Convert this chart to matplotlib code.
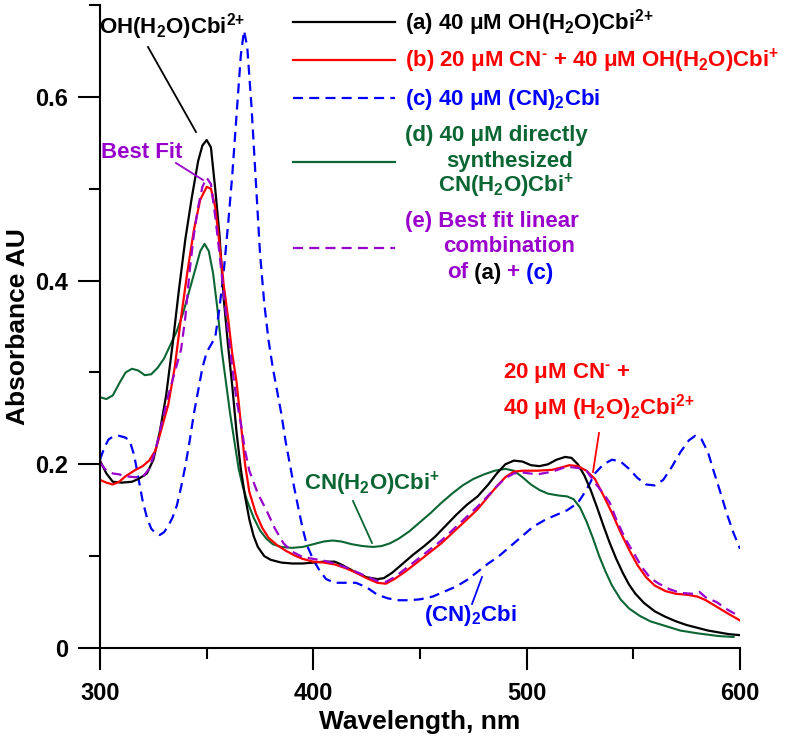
import matplotlib
matplotlib.use('Agg')
import matplotlib.pyplot as plt
from matplotlib.ticker import MultipleLocator, FuncFormatter

plt.rcParams['font.family'] = ['Liberation Sans', 'DejaVu Sans']
plt.rcParams['font.weight'] = 'bold'
plt.rcParams['mathtext.fontset'] = 'custom'
plt.rcParams['mathtext.rm'] = 'Liberation Sans:bold'
plt.rcParams['mathtext.bf'] = 'Liberation Sans:bold'
plt.rcParams['mathtext.it'] = 'Liberation Sans:bold:italic'
plt.rcParams['mathtext.sf'] = 'Liberation Sans:bold'
plt.rcParams['mathtext.default'] = 'rm'

# (a) 40 uM OH(H2O)Cbi2+
wl_a = [300, 303, 306, 310, 315, 318, 322, 325, 328, 331, 334, 337, 340, 343, 346, 348, 350,
        352, 354, 356, 358, 360, 362, 364, 366, 368, 370, 372, 374, 377, 380, 385, 390, 395,
        400, 405, 410, 413, 417, 421, 425, 430, 433, 437, 442, 447, 452, 457, 462, 467, 472,
        477, 482, 486, 490, 494, 498, 502, 506, 510, 514, 518, 521, 524, 527, 530, 533, 536,
        539, 542, 545, 548, 551, 555, 560, 565, 570, 575, 580, 585, 590, 595, 600]
abs_a = [0.204, 0.19, 0.181, 0.180, 0.181, 0.184, 0.19, 0.205, 0.235, 0.275, 0.33, 0.39, 0.445,
         0.49, 0.53, 0.547, 0.553, 0.545, 0.50, 0.45, 0.38, 0.33, 0.285, 0.235, 0.195, 0.165,
         0.14, 0.122, 0.11, 0.10, 0.096, 0.093, 0.092, 0.092, 0.093, 0.094, 0.094, 0.091, 0.086,
         0.081, 0.077, 0.075, 0.076, 0.082, 0.092, 0.102, 0.111, 0.121, 0.133, 0.145, 0.156,
         0.165, 0.178, 0.19, 0.2, 0.204, 0.203, 0.199, 0.198, 0.2, 0.205, 0.208, 0.207, 0.2,
         0.188, 0.172, 0.153, 0.133, 0.114, 0.097, 0.082, 0.069, 0.059, 0.049, 0.04, 0.034,
         0.029, 0.025, 0.022, 0.019, 0.017, 0.015, 0.014]

# (b) 20 uM CN- + 40 uM OH(H2O)Cbi+
wl_b = [300, 303, 306, 309, 312, 316, 320, 323, 326, 329, 332, 335, 338, 341, 344, 347, 350,
        352, 354, 356, 358, 360, 362, 364, 366, 368, 370, 373, 376, 379, 383, 387, 391, 395,
        400, 405, 410, 415, 420, 425, 430, 434, 438, 443, 448, 454, 460, 466, 472, 477, 482,
        486, 490, 494, 498, 505, 512, 517, 520, 524, 528, 532, 536, 540, 544, 548, 552, 556,
        560, 565, 570, 575, 580, 584, 589, 594, 600]
abs_b = [0.183, 0.180, 0.178, 0.181, 0.187, 0.193, 0.198, 0.204, 0.215, 0.24, 0.265, 0.305,
         0.36, 0.41, 0.455, 0.488, 0.502, 0.5, 0.48, 0.44, 0.395, 0.36, 0.32, 0.29, 0.245, 0.2,
         0.17, 0.147, 0.131, 0.12, 0.112, 0.106, 0.101, 0.097, 0.094, 0.093, 0.091, 0.087,
         0.082, 0.076, 0.071, 0.070, 0.075, 0.083, 0.092, 0.103, 0.114, 0.127, 0.14, 0.151,
         0.165, 0.176, 0.186, 0.192, 0.193, 0.193, 0.194, 0.197, 0.199, 0.198, 0.193, 0.184,
         0.166, 0.147, 0.126, 0.107, 0.09, 0.077, 0.068, 0.062, 0.059, 0.058, 0.056, 0.052,
         0.045, 0.038, 0.030]

# (c) 40 uM (CN)2Cbi
wl_c = [300, 302, 304, 306, 309, 312, 314, 316, 318, 320, 322, 324, 326, 328, 330, 332, 334,
        336, 338, 340, 342, 344, 346, 348, 350, 352, 354, 356, 358, 360, 362, 364, 366, 367.5,
        369, 371, 373, 375, 377, 379, 381, 383, 385, 387, 389, 391, 393, 395, 397, 400, 403,
        406, 410, 415, 420, 425, 430, 435, 440, 445, 450, 456, 462, 467, 472, 477, 482, 487,
        492, 497, 503, 509, 514, 519, 524, 528, 532, 536, 540, 544, 548, 552, 556, 560, 564,
        568, 572, 576, 579, 582, 585, 588, 591, 594, 597, 600]
abs_c = [0.205, 0.218, 0.227, 0.230, 0.231, 0.229, 0.225, 0.21, 0.185, 0.16, 0.142, 0.13,
         0.125, 0.123, 0.126, 0.133, 0.142, 0.155, 0.175, 0.198, 0.225, 0.255, 0.28, 0.305,
         0.322, 0.33, 0.338, 0.37, 0.41, 0.46, 0.515, 0.58, 0.645, 0.672, 0.655, 0.59, 0.51,
         0.43, 0.375, 0.335, 0.305, 0.28, 0.255, 0.225, 0.2, 0.175, 0.152, 0.13, 0.112, 0.096,
         0.084, 0.075, 0.071, 0.071, 0.071, 0.066, 0.058, 0.054, 0.052, 0.052, 0.053, 0.056,
         0.062, 0.067, 0.074, 0.083, 0.092, 0.1, 0.11, 0.12, 0.132, 0.14, 0.145, 0.15, 0.158,
         0.172, 0.19, 0.2, 0.205, 0.203, 0.195, 0.185, 0.178, 0.177, 0.183, 0.197, 0.213,
         0.226, 0.231, 0.227, 0.213, 0.19, 0.168, 0.145, 0.125, 0.108]

# (d) 40 uM directly synthesized CN(H2O)Cbi+
wl_d = [300, 303, 306, 309, 312, 315, 318, 321, 324, 327, 330, 333, 336, 339, 342, 345, 347,
        349, 351, 353, 355, 357, 359, 361, 363, 365, 367, 369, 372, 375, 378, 381, 385, 390,
        395, 400, 405, 409, 413, 418, 423, 428, 432, 436, 440, 445, 450, 455, 460, 465, 470,
        475, 480, 485, 490, 494, 498, 502, 506, 510, 515, 519, 522, 525, 528, 531, 534, 537,
        540, 544, 548, 553, 558, 565, 572, 580, 590, 597]
abs_d = [0.273, 0.271, 0.275, 0.288, 0.3, 0.304, 0.302, 0.297, 0.298, 0.305, 0.315, 0.33,
         0.345, 0.365, 0.39, 0.415, 0.432, 0.44, 0.432, 0.408, 0.37, 0.325, 0.29, 0.255, 0.225,
         0.195, 0.175, 0.16, 0.142, 0.128, 0.119, 0.113, 0.11, 0.109, 0.11, 0.113, 0.116,
         0.117, 0.116, 0.113, 0.111, 0.11, 0.111, 0.114, 0.119, 0.127, 0.137, 0.147, 0.158,
         0.168, 0.177, 0.184, 0.189, 0.193, 0.195, 0.193, 0.186, 0.178, 0.172, 0.168, 0.166,
         0.165, 0.162, 0.153, 0.138, 0.12, 0.1, 0.083, 0.068, 0.053, 0.043, 0.035, 0.029,
         0.024, 0.019, 0.016, 0.013, 0.012]

# (e) best fit linear combination of (a) + (c)
wl_e = [300, 303, 306, 309, 312, 316, 320, 323, 326, 329, 332, 335, 338, 340, 342, 344, 346,
        348, 350, 352, 354, 356, 358, 360, 362, 364, 366, 368, 370, 374, 378, 382, 386, 390,
        395, 400, 405, 410, 415, 420, 425, 430, 434, 438, 443, 448, 454, 460, 466, 472, 477,
        482, 486, 490, 494, 498, 505, 512, 517, 520, 524, 528, 532, 536, 539, 542, 546, 550,
        554, 558, 562, 567, 572, 578, 581, 584, 589, 594, 600]
abs_e = [0.202, 0.193, 0.19, 0.189, 0.187, 0.186, 0.186, 0.195, 0.215, 0.245, 0.275, 0.3,
         0.325, 0.36, 0.41, 0.45, 0.48, 0.502, 0.512, 0.505, 0.47, 0.43, 0.385, 0.345, 0.305,
         0.27, 0.245, 0.215, 0.193, 0.168, 0.15, 0.13, 0.114, 0.105, 0.099, 0.097, 0.095,
         0.092, 0.088, 0.083, 0.078, 0.073, 0.072, 0.077, 0.086, 0.095, 0.106, 0.117, 0.13,
         0.143, 0.154, 0.166, 0.176, 0.185, 0.19, 0.191, 0.189, 0.192, 0.196, 0.197, 0.196,
         0.193, 0.18, 0.168, 0.158, 0.14, 0.12, 0.104, 0.088, 0.076, 0.07, 0.064, 0.06, 0.059,
         0.061, 0.055, 0.05, 0.042, 0.034]

BLACK = '#000000'
RED = '#ff0000'
BLUE = '#0000ff'
GREEN = '#0b6633'
PURPLE = '#9900cc'
FS = 16

fig = plt.figure(figsize=(8, 7.41), dpi=100)
ax = fig.add_axes([0.125, 93 / 741, 0.8, 643 / 741])

dash = (0, (4.5, 2.8))
ax.plot(wl_d, abs_d, color=GREEN, lw=1.5)
ax.plot(wl_c, abs_c, color=BLUE, lw=1.6, linestyle=dash)
ax.plot(wl_a, abs_a, color=BLACK, lw=1.6)
ax.plot(wl_b, abs_b, color=RED, lw=1.6)
ax.plot(wl_e, abs_e, color=PURPLE, lw=1.6, linestyle=dash)

ax.set_xlim(300, 600)
ax.set_ylim(0, 0.7)
ax.xaxis.set_major_locator(MultipleLocator(100))
ax.xaxis.set_minor_locator(MultipleLocator(50))
ax.yaxis.set_major_locator(MultipleLocator(0.2))
ax.yaxis.set_minor_locator(MultipleLocator(0.1))
ax.yaxis.set_major_formatter(FuncFormatter(lambda v, p: '0' if abs(v) < 1e-9 else f'{v:.1f}'))
ax.spines['top'].set_visible(False)
ax.spines['right'].set_visible(False)
for s in ('left', 'bottom'):
    ax.spines[s].set_linewidth(1.5)
ax.tick_params(which='major', length=15.8, width=1.5, labelsize=17)
ax.tick_params(which='minor', length=7.9, width=1.5)
ax.tick_params(axis='x', which='major', pad=9)
ax.tick_params(axis='y', which='major', pad=7)
ax.set_xlabel('Wavelength, nm', fontsize=19, fontweight='bold', labelpad=3)
ax.set_ylabel('Absorbance AU', fontsize=19, fontweight='bold', labelpad=4)


def px(x, y):
    # pixel position in the 800x741 picture -> axes fraction
    return ((x - 100) / 640, (648 - y) / 643)


def label(x, y, s, color, ha='left'):
    return ax.text(*px(x, y), s, color=color, fontsize=FS, fontweight='bold',
                   ha=ha, va='center', transform=ax.transAxes)


def leader(x0, y0, x1, y1, color):
    p0, p1 = px(x0, y0), px(x1, y1)
    ax.plot([p0[0], p1[0]], [p0[1], p1[1]], color=color, lw=1.3,
            transform=ax.transAxes, clip_on=False)


SUP2P = r'$^{2\text{+}}$'
SUPP = r'$^{\text{+}}$'
SUPM = r'$^{\text{-}}$'
H2O = r'(H$_2$O)'

# annotations on the curves
label(99, 27, 'OH' + H2O + 'Cbi' + SUP2P, BLACK)
leader(148, 47, 196, 132, BLACK)
label(101, 152, 'Best Fit', PURPLE)
leader(176, 163, 203, 180, PURPLE)
label(304, 484, 'CN' + H2O + 'Cbi' + SUPP, GREEN)
leader(353, 501, 372, 543, GREEN)
label(424, 616, r'(CN)$_2$Cbi', BLUE)
leader(482, 577, 472, 604, BLUE)
label(503, 373, '20 μM CN' + SUPM + ' +', RED)
label(503, 408, r'40 μM (H$_2$O)$_2$Cbi' + SUP2P, RED)
leader(599, 433, 593, 472, RED)

# legend
rows = [(22, BLACK, '-'), (60, RED, '-'), (98, BLUE, dash), (162, GREEN, '-'), (248, PURPLE, dash)]
for yy, c, ls in rows:
    p0, p1 = px(293, yy), px(395, yy)
    ax.plot([p0[0], p1[0]], [p0[1], p1[1]], color=c, lw=1.6, linestyle=ls,
            transform=ax.transAxes, clip_on=False)

label(405, 23, '(a) 40 μM OH' + H2O + 'Cbi' + SUP2P, BLACK)
label(405, 61, '(b) 20 μM CN' + SUPM + ' + 40 μM OH' + H2O + 'Cbi' + SUPP, RED)
label(405, 99, r'(c) 40 μM (CN)$_2$Cbi', BLUE)
label(405, 136, '(d) 40 μM directly', GREEN)
label(510, 161, 'synthesized', GREEN, ha='center')
label(506, 186, 'CN' + H2O + 'Cbi' + SUPP, GREEN, ha='center')
label(405, 222, '(e) Best fit linear', PURPLE)
label(509, 247, 'combination', PURPLE, ha='center')
t = label(447, 273, 'of', PURPLE)
for s, c in [(' (a)', BLACK), (' +', PURPLE), (' (c)', BLUE)]:
    t = ax.annotate(s, xycoords=t, xy=(1, 0), va='bottom', ha='left',
                    color=c, fontsize=FS, fontweight='bold')

fig.savefig('out.png', dpi=100)
